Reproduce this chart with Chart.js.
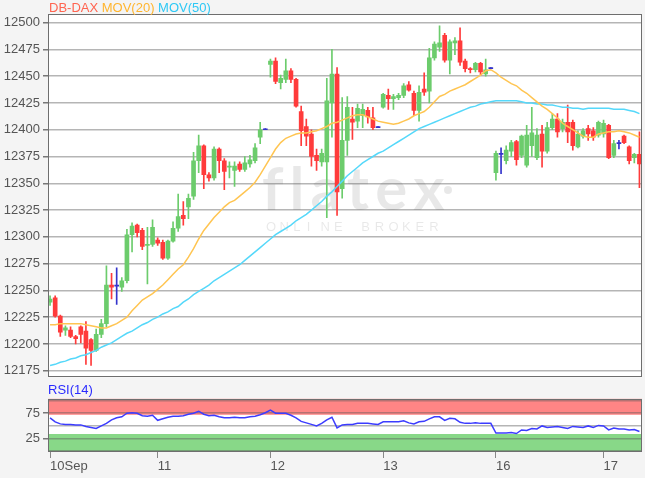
<!DOCTYPE html>
<html>
<head>
<meta charset="utf-8">
<script src="https://cdn.jsdelivr.net/npm/chart.js@4.4.1/dist/chart.umd.min.js"></script>
<style>
html, body { margin: 0; padding: 0; background: #f4f4f4; }
#wrap { position: relative; width: 645px; height: 478px; font-family: Arial, "Liberation Sans", sans-serif; }
#main { position: absolute; left: 0; top: 0; }
#rsi { position: absolute; left: 0; top: 388px; }
.lbl { position: absolute; font-size: 13px; white-space: nowrap; }
</style>
</head>
<body>
<div id="wrap">
  <canvas id="main" width="645" height="388"></canvas>
  <canvas id="rsi" width="645" height="90"></canvas>
  <div class="lbl" style="left:49px;top:0px;"><span style="color:#ff6450">DB-DAX</span> <span style="color:#ffb52e">MOV(20)</span> <span style="color:#2ec8f5">MOV(50)</span></div>
  <div class="lbl" style="left:48px;top:382px;color:#2b2bff">RSI(14)</div>
</div>
<script>
// tage
var dayLabels = ["10Sep", "11", "12", "13", "16", "17"];
var dayStarts = [0, 21, 43, 65, 87, 108];

// kerzen (open / high / low / close)
var opens = [12239,12243,12226,12213,12213,12207,12216,12212,12204,12194,12209,12219,12255,12254,12253,12259,12302,12311,12306,12292,12293,
  12297,12295,12280,12296,12308,12320,12328,12338,12371,12385,12358,12355,12382,12371,12365,12362,12368,12363,12368,12371,12393,12400,
  12461,12464,12444,12447,12455,12447,12417,12403,12396,12376,12370,12370,12425,12452,12345,12390,12410,12408,12413,12418,12411,12402,
  12421,12432,12429,12430,12432,12442,12434,12418,12438,12436,12467,12477,12488,12465,12481,12483,12464,12457,12456,12462,12452,12457,
  12360,12377,12371,12380,12389,12376,12367,12385,12374,12396,12380,12402,12410,12401,12407,12407,12384,12394,12401,12399,12395,
  12396,12404,12376,12387,12394,12384,12374,12377];
var highs = [12245,12245,12227,12217,12216,12208,12217,12221,12205,12214,12223,12273,12266,12271,12262,12307,12313,12312,12308,12309,12316,
  12299,12297,12297,12314,12340,12333,12340,12379,12395,12386,12360,12384,12383,12373,12370,12370,12370,12375,12376,12387,12407,12401,
  12466,12467,12451,12466,12457,12448,12422,12410,12400,12382,12382,12448,12475,12458,12430,12431,12421,12424,12424,12421,12421,12403,
  12434,12438,12433,12434,12443,12445,12436,12441,12453,12476,12482,12497,12490,12484,12486,12495,12466,12458,12463,12463,12466,12458,
  12380,12383,12385,12390,12390,12395,12404,12421,12401,12404,12407,12415,12415,12410,12423,12409,12399,12401,12404,12402,12408,
  12409,12405,12390,12390,12395,12385,12378,12398];
var lows = [12236,12225,12207,12208,12206,12200,12201,12181,12180,12193,12206,12216,12242,12237,12249,12257,12286,12300,12288,12256,12291,
  12292,12279,12279,12295,12305,12311,12317,12335,12360,12345,12352,12353,12360,12344,12355,12347,12361,12361,12365,12369,12387,12400,
  12449,12443,12438,12444,12444,12421,12385,12385,12366,12362,12366,12318,12393,12320,12336,12376,12391,12402,12402,12406,12400,12402,
  12420,12419,12419,12428,12430,12436,12413,12408,12432,12425,12465,12473,12463,12452,12470,12460,12454,12453,12454,12451,12450,12457,
  12353,12359,12368,12375,12367,12374,12365,12375,12372,12365,12378,12400,12393,12398,12388,12381,12383,12392,12390,12390,12393,
  12393,12373,12374,12382,12387,12368,12369,12346];
var closes = [12242,12226,12211,12215,12207,12205,12209,12196,12194,12209,12219,12255,12253,12254,12259,12302,12310,12304,12291,12293,12309,
  12294,12280,12296,12308,12319,12317,12336,12371,12385,12358,12355,12382,12371,12361,12366,12366,12363,12369,12372,12383,12400,12400,
  12464,12445,12448,12455,12447,12422,12399,12394,12375,12371,12378,12427,12452,12342,12390,12421,12407,12420,12419,12412,12402,12402,
  12433,12429,12431,12432,12441,12437,12418,12435,12435,12467,12480,12481,12465,12482,12483,12463,12457,12456,12462,12454,12456,12457,
  12378,12377,12381,12388,12372,12394,12395,12397,12395,12380,12402,12410,12398,12407,12398,12385,12396,12399,12396,12393,12407,
  12406,12374,12387,12387,12388,12371,12377,12368];

// gleitende durchschnitte
var mov20 = [12218,12218,12219,12219,12219,12219,12219,12218,12217,12216,12215,12215,12217,12219,12222,12225,12231,12236,12241,12244,12247,
  12251,12255,12260,12265,12270,12274,12281,12289,12298,12306,12312,12318,12323,12328,12332,12334,12338,12342,12346,12351,12358,12366,
  12374,12382,12388,12392,12394,12396,12397,12397,12398,12399,12401,12403,12406,12407,12409,12411,12413,12414,12414,12412,12410,12408,
  12407,12406,12405,12406,12408,12410,12413,12415,12417,12421,12426,12431,12433,12436,12438,12440,12442,12445,12448,12451,12455,12456,
  12453,12449,12446,12443,12441,12437,12434,12430,12426,12422,12419,12415,12411,12406,12403,12400,12397,12394,12393,12393,12396,
  12397,12398,12398,12399,12398,12397,12395,12393];
var mov50 = [12180,12181,12183,12184,12186,12187,12189,12190,12192,12194,12197,12199,12201,12204,12207,12210,12212,12215,12218,12220,12223,
  12225,12228,12230,12233,12235,12239,12242,12246,12249,12252,12255,12259,12262,12265,12268,12271,12274,12278,12282,12286,12290,12294,
  12298,12302,12305,12308,12311,12315,12318,12321,12325,12329,12333,12338,12342,12347,12352,12357,12361,12365,12369,12372,12375,12378,
  12380,12383,12386,12389,12392,12395,12398,12401,12403,12405,12407,12409,12411,12413,12415,12417,12419,12421,12422,12424,12425,12426,
  12427,12427,12427,12427,12427,12426,12425,12425,12424,12424,12423,12423,12422,12421,12421,12420,12420,12419,12420,12420,12420,
  12420,12420,12419,12419,12419,12418,12417,12415];

// rsi
var rsi14 = [66,58,54,53,53,52,52,49,47,45,50,55,62,66,68,75,76,75,70,69,71,
  61,64,67,69,69,70,73,75,79,73,70,71,68,66,66,67,66,66,68,69,72,76,
  81,75,75,75,71,66,59,56,53,50,55,62,67,46,52,53,53,55,55,55,54,53,
  58,58,58,58,60,56,54,58,59,64,68,68,61,65,64,57,55,55,56,55,55,55,
  36,36,36,37,35,42,41,45,44,50,47,48,49,47,45,49,48,47,50,47,51,
  50,42,46,44,44,42,43,39];

var xMin = -0.4, xMax = 115.5;
var gridCol = "rgba(90,90,90,0.45)";

var candleCol = opens.map(function (o, i) {
  if (closes[i] > o) return "#6ccc6c";
  if (closes[i] < o) return "#ff3b3b";
  return "#3434cc";
});

var bgPlugin = {
  id: "bg",
  beforeDraw: function (chart) {
    var a = chart.chartArea, ctx = chart.ctx;
    ctx.save();
    ctx.fillStyle = "#fff";
    ctx.fillRect(a.left, a.top, a.right - a.left, a.bottom - a.top);
    if (chart.canvas.id === "main") {
      // wasserzeichen
      ctx.fillStyle = "rgba(0,0,0,0.09)";
      ctx.font = "bold 60px Lato, 'DejaVu Sans', sans-serif";
      ctx.textBaseline = "alphabetic";
      var w = "flatex", x = 262;
      for (var j = 0; j < w.length; j++) {
        ctx.fillText(w[j], x, 210);
        x += ctx.measureText(w[j]).width + 6;
      }
      ctx.beginPath();
      ctx.arc(448, 190, 4, 0, Math.PI * 2);
      ctx.fill();
      ctx.font = "13px Arial, 'Liberation Sans', sans-serif";
      var s = "ONLINE BROKER";
      for (var i = 0; i < s.length; i++) ctx.fillText(s[i], 266 + i * 13.6, 231);
    } else {
      var y = chart.scales.y;
      ctx.fillStyle = "#ff8585";
      ctx.fillRect(a.left, a.top, a.right - a.left, y.getPixelForValue(72) - a.top);
      ctx.fillStyle = "#88d888";
      ctx.fillRect(a.left, y.getPixelForValue(34), a.right - a.left, a.bottom - y.getPixelForValue(34));
    }
    ctx.restore();
  },
  afterDraw: function (chart) {
    var a = chart.chartArea, ctx = chart.ctx;
    ctx.save();
    ctx.strokeStyle = "#6e6e6e";
    ctx.lineWidth = 1;
    ctx.strokeRect(Math.round(a.left) + 0.5, Math.round(a.top) + 0.5, Math.round(a.right - a.left) - 1, Math.round(a.bottom - a.top) - 1);
    ctx.restore();
  }
};

var mainChart = new Chart(document.getElementById("main"), {
  type: "bar",
  data: {
    datasets: [
      {
        type: "line", label: "MOV(20)", order: 0,
        data: mov20.map(function (v, i) { return { x: i, y: v }; }),
        borderColor: "#ffc552", borderWidth: 1.5, pointRadius: 0, tension: 0
      },
      {
        type: "line", label: "MOV(50)", order: 0,
        data: mov50.map(function (v, i) { return { x: i, y: v }; }),
        borderColor: "#55d8fa", borderWidth: 1.5, pointRadius: 0, tension: 0
      },
      {
        label: "body", order: 1, grouped: false,
        data: opens.map(function (o, i) { return { x: i, y: [o, closes[i]] }; }),
        backgroundColor: candleCol, barThickness: 4, minBarLength: 1, borderWidth: 0
      },
      {
        label: "wick", order: 2, grouped: false,
        data: lows.map(function (l, i) { return { x: i, y: [l, highs[i]] }; }),
        backgroundColor: candleCol, barThickness: 1, borderWidth: 0
      }
    ]
  },
  options: {
    responsive: false,
    animation: false,
    layout: { padding: { top: 14, bottom: 8, right: 3, left: 0 } },
    plugins: { legend: { display: false }, tooltip: { enabled: false } },
    scales: {
      x: { type: "linear", min: xMin, max: xMax, offset: false, display: false },
      y: {
        min: 12169, max: 12508,
        ticks: {
          stepSize: 25, includeBounds: false, color: "#555", font: { size: 13 }, padding: 3,
          callback: function (v) { return String(v); }
        },
        grid: { color: gridCol, lineWidth: 1.5, tickLength: 5, tickColor: "#777" },
        border: { display: false },
        afterFit: function (s) { s.width = 48; }
      }
    }
  },
  plugins: [bgPlugin]
});

var rsiChart = new Chart(document.getElementById("rsi"), {
  type: "line",
  data: {
    datasets: [{
      label: "RSI(14)",
      data: rsi14.map(function (v, i) { return { x: i, y: v }; }),
      borderColor: "#3c3cff", borderWidth: 1.5, pointRadius: 0, tension: 0
    }]
  },
  options: {
    responsive: false,
    animation: false,
    layout: { padding: { top: 9, bottom: 0, right: 3, left: 0 } },
    plugins: { legend: { display: false }, tooltip: { enabled: false } },
    scales: {
      x: {
        type: "linear", min: xMin, max: xMax, offset: false,
        afterBuildTicks: function (s) { s.ticks = dayStarts.map(function (v) { return { value: v }; }); },
        ticks: {
          autoSkip: false, maxRotation: 0, align: "start", color: "#555", font: { size: 13 }, padding: 1,
          callback: function (v) { var k = dayStarts.indexOf(v); return k < 0 ? "" : dayLabels[k]; }
        },
        grid: { drawOnChartArea: false, tickLength: 6, tickColor: "#888" },
        border: { display: false },
        afterFit: function (s) { s.height = 26; }
      },
      y: {
        min: -1.5, max: 103.5,
        afterBuildTicks: function (s) { s.ticks = [0, 25, 50, 75, 100].map(function (v) { return { value: v }; }); },
        ticks: {
          autoSkip: false, color: "#555", font: { size: 13 }, padding: 3,
          callback: function (v) { return (v === 25 || v === 75) ? String(v) : ""; }
        },
        grid: {
          color: gridCol, lineWidth: 1.5, tickLength: 5,
          tickColor: function (c) { return (c.tick && (c.tick.value === 25 || c.tick.value === 75)) ? "#777" : "rgba(0,0,0,0)"; }
        },
        border: { display: false },
        afterFit: function (s) { s.width = 48; }
      }
    }
  },
  plugins: [bgPlugin]
});
</script>
</body>
</html>
